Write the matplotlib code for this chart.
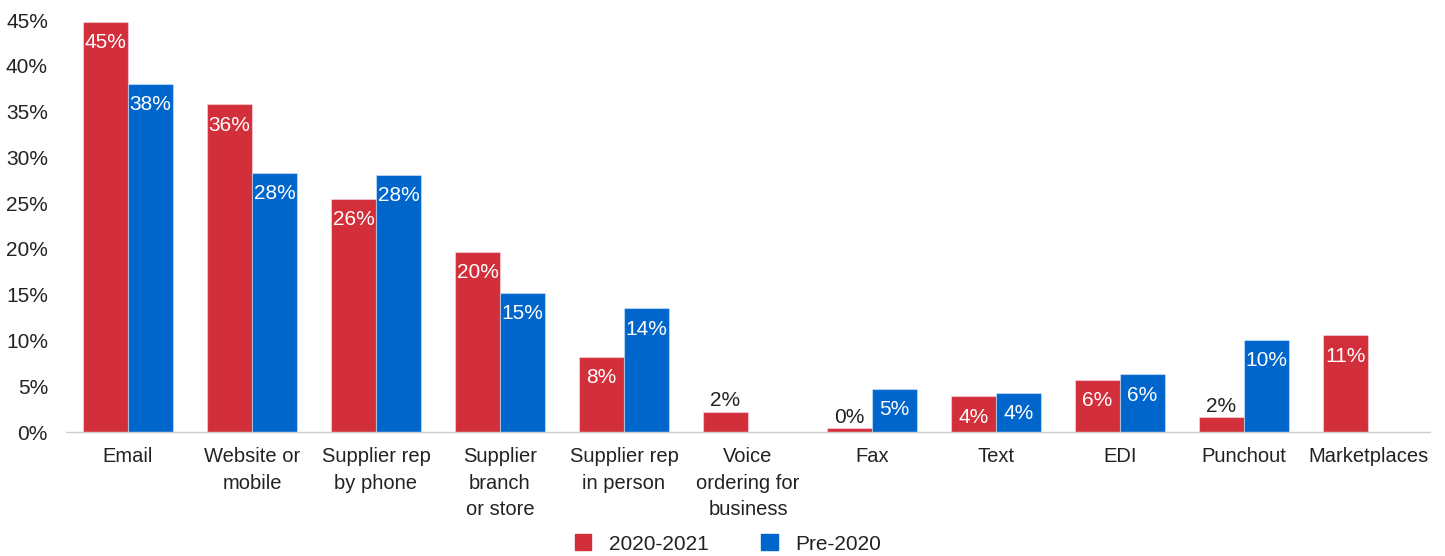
import matplotlib.pyplot as plt
import numpy as np
from matplotlib.patches import Patch

plt.rcParams["font.family"] = ["Liberation Sans", "DejaVu Sans"]

categories = ["Email", "Website or\nmobile", "Supplier rep\nby phone", "Supplier\nbranch\nor store",
              "Supplier rep\nin person", "Voice\nordering for\nbusiness", "Fax", "Text", "EDI",
              "Punchout", "Marketplaces"]
recent = [44.8, 35.8, 25.5, 19.7, 8.2, 2.2, 0.4, 3.9, 5.7, 1.6, 10.55]
pre2020 = [38.0, 28.3, 28.1, 15.2, 13.5, None, 4.7, 4.3, 6.3, 10.05, None]
series_labels = ["2020-2021", "Pre-2020"]

RED = "#d32f3b"
BLUE = "#0066cc"
TEXT = "#222222"
FS = 15

fig = plt.figure(figsize=(14.45, 5.56), dpi=100)
ax = fig.add_axes([66 / 1445, 124 / 556, 1364 / 1445, 412 / 556])

x = np.arange(len(categories))
w = 0.363


def draw(values, offset, color):
    for xi, v in zip(x, values):
        if v is None:
            continue
        ax.bar(xi + offset, v, w, color=color, edgecolor=(1, 1, 1, 0.4), linewidth=0.8)
        label = f"{v:.0f}%"
        # tall bars carry the value inside the top, short ones just above
        if v >= 3:
            ax.annotate(label, (xi + offset, v), xytext=(0, -15), textcoords="offset points",
                        ha="center", va="center", color="white", fontsize=FS)
        else:
            ax.annotate(label, (xi + offset, v), xytext=(0, 8), textcoords="offset points",
                        ha="center", va="center", color=TEXT, fontsize=FS)


draw(recent, -w / 2, RED)
draw(pre2020, w / 2, BLUE)

ax.set_xlim(-0.5, len(categories) - 0.5)
ax.set_ylim(0, 45)
ax.set_yticks(np.arange(0, 46, 5))
ax.set_yticklabels([f"{t}%" for t in range(0, 46, 5)], fontsize=FS)
ax.set_xticks(x)
ax.set_xticklabels(categories, linespacing=1.5, fontsize=14.5)
ax.tick_params(axis="both", length=0, colors=TEXT)
ax.tick_params(axis="y", pad=13)
ax.tick_params(axis="x", pad=11)
for s in ["top", "right", "left"]:
    ax.spines[s].set_visible(False)
ax.spines["bottom"].set_color("#cccccc")
ax.spines["bottom"].set_linewidth(1)

handles = [Patch(color=RED, label=series_labels[0]), Patch(color=BLUE, label=series_labels[1])]
fig.legend(handles=handles, loc="center", bbox_to_anchor=(728 / 1445, 12 / 556), ncol=2,
           frameon=False, fontsize=FS, handlelength=0.8, handleheight=0.8,
           handletextpad=0.85, columnspacing=2.5, labelcolor=TEXT)

fig.savefig("out.png", dpi=100)
